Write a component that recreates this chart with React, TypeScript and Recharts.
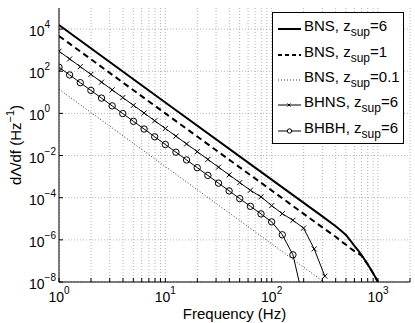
import { LineChart, Line, XAxis, YAxis, CartesianGrid, Legend, Label } from 'recharts';

const FONT = '"Liberation Sans", Arial, Helvetica, sans-serif';

// BNS curves (Hz, dΛ/df)
const bnsFreq = [1, 10, 100, 300, 400, 450, 500, 550, 600, 650, 700, 800, 900, 1000];
const bnsZ6 = [15500, 3.3, 7.2e-4, 1.3e-5, 4.4e-6, 2.7e-6, 1.7e-6, 9.3e-7, 5.2e-7, 3.2e-7, 1.9e-7, 6.9e-8, 2.6e-8, 1e-8];
const bnsZ1 = [4700, 1.0, 2.2e-4, 3.9e-6, 1.4e-6, 8.6e-7, 5.9e-7, 4.0e-7, 2.9e-7, 2.3e-7, 1.8e-7, 6.9e-8, 2.6e-8, 1e-8];
const bnsLowFreq = [1, 10, 100, 310];
const bnsZ01 = [14, 0.003, 6.5e-7, 1e-8];

// black hole curves, one marker per tenth of a decade
const bhFreq = [
  1, 1.259, 1.585, 1.995, 2.512, 3.162, 3.981, 5.012, 6.31, 7.943, 10, 12.59, 15.85, 19.95, 25.12,
  31.62, 39.81, 50.12, 63.1, 79.43, 100, 125.9, 158.5, 199.5, 251.2, 316.2,
];
const bhnsZ6 = [
  891, 383, 165, 70.8, 30.4, 13.1, 5.62, 2.42, 1.04, 0.447, 0.192, 0.0826, 0.0355, 0.0153, 0.00656,
  0.00282, 0.00121, 5.2e-4, 2.24e-4, 1.1e-4, 4.2e-5, 1.75e-5, 8.5e-6, 3.6e-6, 3.7e-7, 1.9e-8,
];
const bhbhZ6 = [
  155, 66.6, 28.6, 12.3, 5.29, 2.27, 0.977, 0.42, 0.181, 0.0776, 0.0334, 0.0144, 0.00617, 0.00265,
  0.00114, 4.9e-4, 2.1e-4, 9.0e-5, 3.9e-5, 1.7e-5, 7.1e-6, 1.74e-6, 1.95e-7, 1.3e-9,
];

const legendNames = ['BNS', 'BNS', 'BNS', 'BHNS', 'BHBH'];
const legendZ = ['6', '1', '0.1', '6', '6'];

const xTicks = [
  1, 2, 3, 4, 5, 6, 7, 8, 9, 10, 20, 30, 40, 50, 60, 70, 80, 90, 100, 200, 300, 400, 500, 600, 700,
  800, 900, 1000, 2000,
];
const yTicks = [1e-8, 1e-6, 1e-4, 1e-2, 1, 1e2, 1e4];

const toPoints = (fs: number[], vs: number[]) => vs.map((v, i) => ({ f: fs[i], v }));

const bnsZ6Data = toPoints(bnsFreq, bnsZ6);
const bnsZ1Data = toPoints(bnsFreq, bnsZ1);
const bnsZ01Data = toPoints(bnsLowFreq, bnsZ01);
const bhnsData = toPoints(bhFreq, bhnsZ6);
const bhbhData = toPoints(bhFreq, bhbhZ6);

const exponent = (v: number) => {
  const e = Math.round(Math.log10(v));
  return Math.abs(Math.pow(10, e) - v) < v * 1e-6 ? e : null;
};
const expText = (e: number) => (e < 0 ? `\u2212${-e}` : `${e}`);

const XTick = ({ x, y, payload }: any) => {
  const e = exponent(payload.value);
  if (e === null || payload.value > 1000) return <g />;
  return (
    <text x={x} y={y + 22} textAnchor="middle" fontFamily={FONT} fontSize={14} fill="#000">
      10
      <tspan dy={-8} fontSize={10}>
        {expText(e)}
      </tspan>
    </text>
  );
};

const YTick = ({ x, y, payload }: any) => {
  const e = exponent(payload.value);
  if (e === null) return <g />;
  return (
    <text x={x - 32} y={y + 7} textAnchor="start" fontFamily={FONT} fontSize={14} fill="#000">
      10
      <tspan dy={-8} fontSize={10}>
        {expText(e)}
      </tspan>
    </text>
  );
};

const CrossDot = (props: any) => {
  const { cx, cy, index } = props;
  if (cx == null || cy == null) return <g key={`x-${index}`} />;
  const s = 2.5;
  return (
    <path
      key={`x-${index}`}
      d={`M${cx - s},${cy - s}L${cx + s},${cy + s}M${cx - s},${cy + s}L${cx + s},${cy - s}`}
      stroke="#000"
      strokeWidth={1}
    />
  );
};

const CircleDot = (props: any) => {
  const { cx, cy, index } = props;
  if (cx == null || cy == null) return <g key={`o-${index}`} />;
  return <circle key={`o-${index}`} cx={cx} cy={cy} r={3.2} stroke="#000" strokeWidth={1} fill="none" />;
};

const LegendSample = ({ i }: { i: number }) => {
  const styles = [
    { w: 2, dash: undefined, color: '#000' },
    { w: 2, dash: '4 3', color: '#000' },
    { w: 1, dash: '1 2', color: '#333' },
    { w: 1, dash: undefined, color: '#000' },
    { w: 1, dash: undefined, color: '#000' },
  ];
  const st = styles[i];
  return (
    <svg width={24} height={10} style={{ display: 'block', marginTop: 5 }}>
      <line x1={0} x2={23} y1={5} y2={5} stroke={st.color} strokeWidth={st.w} strokeDasharray={st.dash} />
      {i === 3 && <path d="M9.5,3.5L12.5,6.5M9.5,6.5L12.5,3.5" stroke="#000" strokeWidth={1} />}
      {i === 4 && <circle cx={11.5} cy={5} r={2.2} stroke="#000" strokeWidth={1} fill="#fff" />}
    </svg>
  );
};

const LegendBox = () => (
  <div
    style={{
      position: 'absolute',
      left: 272,
      top: 12,
      width: 132,
      height: 132,
      boxSizing: 'border-box',
      border: '1px solid #000',
      background: '#fff',
      paddingTop: 1,
      fontFamily: FONT,
      color: '#000',
    }}
  >
    {legendNames.map((name, i) => (
      <div key={i} style={{ display: 'flex', alignItems: 'center', height: 25.4, paddingLeft: 5 }}>
        <LegendSample i={i} />
        <span style={{ fontSize: 15, lineHeight: '15px', marginLeft: 2, whiteSpace: 'nowrap' }}>
          {name}, z
          <span style={{ fontSize: 12, position: 'relative', top: 5 }}>sup</span>={legendZ[i]}
        </span>
      </div>
    ))}
  </div>
);

export default function App() {
  return (
    <div style={{ position: 'absolute', left: 0, top: 0, width: 415, height: 323, background: '#fff' }}>
      <LineChart width={415} height={323} margin={{ top: 8, right: 5, left: 0, bottom: 0 }}>
        <CartesianGrid
          verticalValues={xTicks}
          horizontalValues={yTicks}
          stroke="#b4b4b4"
          strokeDasharray="1 2"
        />
        <XAxis
          dataKey="f"
          type="number"
          scale="log"
          domain={[1, 2000]}
          allowDataOverflow
          ticks={xTicks}
          interval={0}
          height={41}
          tickSize={-4}
          tick={<XTick />}
          stroke="#000"
          label={
            <Label
              content={() => (
                <text x={234.5} y={319} textAnchor="middle" fontFamily={FONT} fontSize={15} fill="#000">
                  Frequency (Hz)
                </text>
              )}
            />
          }
        />
        <XAxis
          xAxisId="top"
          orientation="top"
          type="number"
          scale="log"
          domain={[1, 2000]}
          allowDataOverflow
          ticks={xTicks}
          interval={0}
          height={0}
          tickSize={-4}
          tick={false}
          stroke="#000"
        />
        <YAxis
          type="number"
          scale="log"
          domain={[1e-8, 1e5]}
          allowDataOverflow
          ticks={yTicks}
          interval={0}
          width={59}
          tickSize={-4}
          tick={<YTick />}
          stroke="#000"
          label={
            <Label
              content={() => (
                <text
                  transform="translate(21,145) rotate(-90)"
                  textAnchor="middle"
                  fontFamily={FONT}
                  fontSize={15}
                  fill="#000"
                >
                  dΛ/df (Hz
                  <tspan dy={-7} fontSize={11}>
                    −1
                  </tspan>
                  <tspan dy={7}>)</tspan>
                </text>
              )}
            />
          }
        />
        <YAxis
          yAxisId="right"
          orientation="right"
          type="number"
          scale="log"
          domain={[1e-8, 1e5]}
          allowDataOverflow
          ticks={yTicks}
          interval={0}
          width={0}
          tickSize={-4}
          tick={false}
          stroke="#000"
        />
        <Line
          data={bnsZ01Data}
          dataKey="v"
          stroke="#333"
          strokeWidth={1}
          strokeDasharray="1 2"
          dot={false}
          isAnimationActive={false}
        />
        <Line data={bhbhData} dataKey="v" stroke="#000" strokeWidth={1} dot={CircleDot} isAnimationActive={false} />
        <Line data={bhnsData} dataKey="v" stroke="#000" strokeWidth={1} dot={CrossDot} isAnimationActive={false} />
        <Line
          data={bnsZ1Data}
          dataKey="v"
          stroke="#000"
          strokeWidth={2}
          strokeDasharray="6 4"
          dot={false}
          isAnimationActive={false}
        />
        <Line data={bnsZ6Data} dataKey="v" stroke="#000" strokeWidth={2} dot={false} isAnimationActive={false} />
        <Legend
          layout="vertical"
          align="center"
          verticalAlign="middle"
          wrapperStyle={{ left: 0, top: 0, width: 0, height: 0 }}
          content={() => <LegendBox />}
        />
      </LineChart>
    </div>
  );
}
